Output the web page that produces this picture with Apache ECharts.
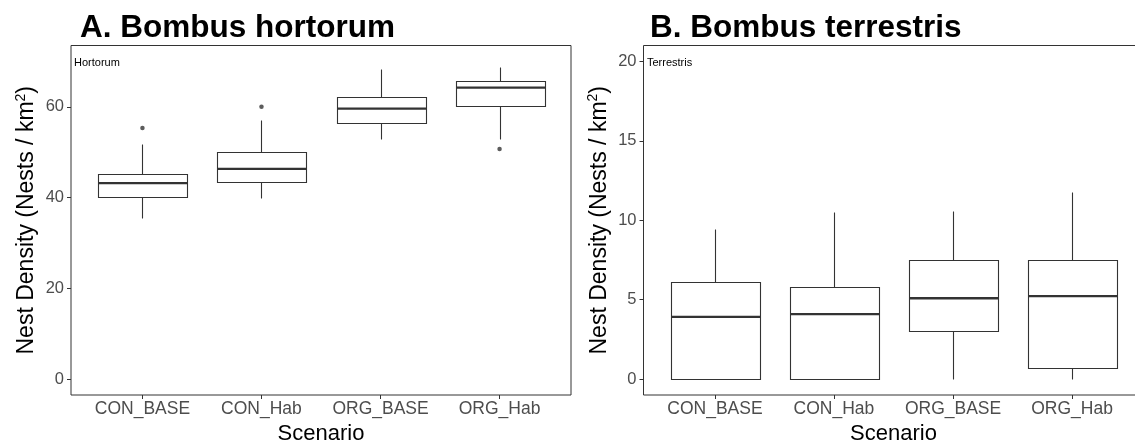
<!DOCTYPE html>
<html>
<head>
<meta charset="utf-8">
<script src="https://cdn.jsdelivr.net/npm/echarts@6/dist/echarts.min.js"></script>
<style>
  html, body { margin: 0; padding: 0; background: #fff; }
  #chart { width: 1135px; height: 441px; }
</style>
</head>
<body>
<div id="chart"></div>
<script>
// Scenario categories shared by both panels
const categories = ['CON_BASE', 'CON_Hab', 'ORG_BASE', 'ORG_Hab'];

// Box statistics per scenario: [lower whisker, Q1, median, Q3, upper whisker]
const hortorumStats = [
  [35.5, 40.2, 43.2, 45.2, 51.8],
  [39.8, 43.5, 46.3, 50.0, 57.1],
  [52.9, 56.5, 59.6, 62.2, 68.3],
  [52.9, 60.1, 64.2, 65.7, 68.7]
];
// Outliers: [scenario index, value]
const hortorumOutliers = [[0, 55.3], [1, 60.0], [3, 50.7]];

const terrestrisStats = [
  [0, 0, 3.92, 6.10, 9.43],
  [0, 0, 4.09, 5.80, 10.5],
  [0, 3.06, 5.09, 7.50, 10.6],
  [0, 0.69, 5.22, 7.48, 11.8]
];
const terrestrisOutliers = [];

// Tick labels
const hortorumTicks = [0, 20, 40, 60];
const terrestrisTicks = [0, 5, 10, 15, 20];
const categoryTicks = [0, 1, 2, 3];

const FONT = '"Liberation Sans", Arial, sans-serif';
const INK = '#333333';

function boxRender(params, api) {
  const x = api.value(0);
  const lo = api.coord([x, api.value(1)]);
  const q1 = api.coord([x, api.value(2)]);
  const med = api.coord([x, api.value(3)]);
  const q3 = api.coord([x, api.value(4)]);
  const hi = api.coord([x, api.value(5)]);
  const half = api.size([0.75, 0])[0] / 2;
  const cx = Math.round(lo[0]) + 0.5;
  const r = (v) => Math.round(v) + 0.5;
  const lineStyle = { stroke: INK, lineWidth: 1.1, fill: null };
  return {
    type: 'group',
    children: [
      { type: 'line', shape: { x1: cx, y1: r(q3[1]), x2: cx, y2: r(hi[1]) }, style: lineStyle },
      { type: 'line', shape: { x1: cx, y1: r(lo[1]), x2: cx, y2: r(q1[1]) }, style: lineStyle },
      {
        type: 'rect',
        shape: { x: r(cx - half), y: r(q3[1]), width: Math.round(2 * half), height: Math.round(q1[1]) - Math.round(q3[1]) },
        style: { stroke: INK, lineWidth: 1.1, fill: '#ffffff' }
      },
      { type: 'line', shape: { x1: r(cx - half), y1: med[1], x2: r(cx - half) + Math.round(2 * half), y2: med[1] }, style: { stroke: INK, lineWidth: 2.3 } }
    ]
  };
}

function toBoxData(stats) {
  return stats.map((s, i) => [i].concat(s));
}

function xAxisFor(gridIndex) {
  return {
    gridIndex: gridIndex,
    type: 'value',
    min: -0.6,
    max: 3.6,
    name: 'Scenario',
    nameLocation: 'middle',
    nameGap: 15,
    nameTextStyle: { fontFamily: FONT, fontSize: 22, color: '#000' },
    axisLine: { show: false, onZero: false },
    axisTick: { show: true, length: 4, customValues: categoryTicks, lineStyle: { color: INK, width: 1 } },
    axisLabel: {
      customValues: categoryTicks,
      formatter: (v) => categories[Math.round(v)],
      fontFamily: FONT, fontSize: 17.5, color: '#4D4D4D', margin: 5
    },
    splitLine: { show: false }
  };
}

function yAxisFor(gridIndex, min, max, ticks) {
  return {
    gridIndex: gridIndex,
    type: 'value',
    min: min,
    max: max,
    name: 'Nest Density (Nests / km{sup|2})',
    nameLocation: 'middle',
    nameGap: 31,
    nameRotate: 90,
    nameTextStyle: {
      fontFamily: FONT, fontSize: 23, color: '#000', lineHeight: 26,
      rich: { sup: { fontFamily: FONT, fontSize: 14, color: '#000', verticalAlign: 'top', lineHeight: 26 } }
    },
    axisLine: { show: false, onZero: false },
    axisTick: { show: true, length: 4, customValues: ticks, lineStyle: { color: INK, width: 1 } },
    axisLabel: { customValues: ticks, fontFamily: FONT, fontSize: 16.5, color: '#4D4D4D', margin: 7 },
    splitLine: { show: false }
  };
}

const chart = echarts.init(document.getElementById('chart'), null, { renderer: 'canvas' });

chart.setOption({
  backgroundColor: '#ffffff',
  animation: false,
  grid: [
    { left: 71, top: 45.5, width: 500, bottom: 46, outerBoundsMode: 'none', containLabel: false, show: true, borderColor: INK, borderWidth: 1, backgroundColor: 'transparent' },
    { left: 643.5, top: 45.5, width: 500, bottom: 46, outerBoundsMode: 'none', containLabel: false, show: true, borderColor: INK, borderWidth: 1, backgroundColor: 'transparent' }
  ],
  xAxis: [xAxisFor(0), xAxisFor(1)],
  yAxis: [
    yAxisFor(0, -3.5, 73.5, hortorumTicks),
    yAxisFor(1, -1, 21, terrestrisTicks)
  ],
  graphic: [
    { type: 'text', left: 80, top: 12, style: { text: 'A. Bombus hortorum', font: 'bold 31.5px ' + FONT, fill: '#000' } },
    { type: 'text', left: 650, top: 12, style: { text: 'B. Bombus terrestris', font: 'bold 31.5px ' + FONT, fill: '#000' } },
    { type: 'text', left: 74, top: 57, style: { text: 'Hortorum', font: '11px ' + FONT, fill: '#000' } },
    { type: 'text', left: 647, top: 57, style: { text: 'Terrestris', font: '11px ' + FONT, fill: '#000' } }
  ],
  series: [
    {
      type: 'custom', xAxisIndex: 0, yAxisIndex: 0,
      renderItem: boxRender,
      encode: { x: 0, y: [1, 2, 3, 4, 5] },
      data: toBoxData(hortorumStats)
    },
    {
      type: 'scatter', xAxisIndex: 0, yAxisIndex: 0,
      symbol: 'circle', symbolSize: 4.5,
      itemStyle: { color: INK },
      data: hortorumOutliers
    },
    {
      type: 'custom', xAxisIndex: 1, yAxisIndex: 1,
      renderItem: boxRender,
      encode: { x: 0, y: [1, 2, 3, 4, 5] },
      data: toBoxData(terrestrisStats)
    },
    {
      type: 'scatter', xAxisIndex: 1, yAxisIndex: 1,
      symbol: 'circle', symbolSize: 4.5,
      itemStyle: { color: INK },
      data: terrestrisOutliers
    }
  ]
});
</script>
</body>
</html>
